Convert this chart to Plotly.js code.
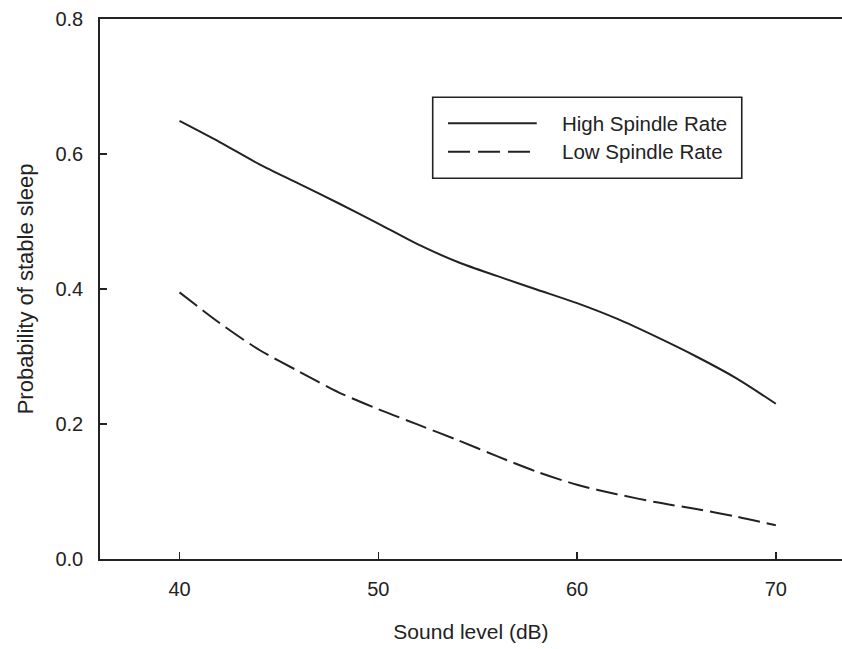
<!DOCTYPE html>
<html>
<head>
<meta charset="utf-8">
<script src="https://cdn.plot.ly/plotly-3.0.1.min.js"></script>
<style>html,body{margin:0;padding:0;background:#fff;}#chart{width:842px;height:649px;}</style>
</head>
<body>
<div id="chart"></div>
<script>
// ---- data ----
const soundLevel = [40, 42, 44, 46, 48, 50, 52, 54, 56, 58, 60, 62, 64, 66, 68, 70];
const highSpindle = [0.649, 0.618, 0.585, 0.556, 0.527, 0.497, 0.466, 0.440, 0.419, 0.399, 0.379, 0.356, 0.329, 0.300, 0.268, 0.230];
const lowSpindle  = [0.395, 0.350, 0.310, 0.278, 0.247, 0.222, 0.199, 0.176, 0.152, 0.129, 0.110, 0.096, 0.084, 0.074, 0.063, 0.050];
const seriesNames = ["High Spindle Rate", "Low Spindle Rate"];
const xTicks = [40, 50, 60, 70];
const yTicks = [0.0, 0.2, 0.4, 0.6, 0.8];
const yTickLabels = ["0.0", "0.2", "0.4", "0.6", "0.8"];

const ink = "#222222";
const fontFam = "Liberation Sans, Arial, sans-serif";

const traces = [
  {x: soundLevel, y: highSpindle, name: seriesNames[0], mode: "lines",
   line: {color: ink, width: 2, shape: "spline", smoothing: 0.8}},
  {x: soundLevel, y: lowSpindle, name: seriesNames[1], mode: "lines",
   line: {color: ink, width: 2, dash: "22px,7px", shape: "spline", smoothing: 0.8}}
];

// legend geometry in paper coords
const lx0 = 0.4484, lx1 = 0.8649, ly0 = 0.705, ly1 = 0.855;
const sx0 = 0.469, sx1 = 0.5886, tx = 0.6199;
const rowY = [0.8069, 0.7543];

const layout = {
  width: 842, height: 649,
  margin: {l: 100, r: 0, t: 19, b: 90},
  paper_bgcolor: "#ffffff", plot_bgcolor: "#ffffff",
  showlegend: false,
  font: {family: fontFam, color: ink, size: 20},
  xaxis: {
    range: [36.0, 73.33], tickvals: xTicks, ticktext: xTicks.map(String),
    ticks: "inside", ticklen: 7, tickwidth: 1.4, tickcolor: ink,
    showline: true, linecolor: ink, linewidth: 1.8, mirror: true,
    showgrid: false, zeroline: false, ticklabelstandoff: 11,
    tickfont: {size: 20, color: ink},
    title: {text: "Sound level (dB)", font: {size: 21, color: ink}, standoff: 25}
  },
  yaxis: {
    range: [0, 0.8], tickvals: yTicks, ticktext: yTickLabels,
    ticks: "inside", ticklen: 7, tickwidth: 1.4, tickcolor: ink,
    showline: true, linecolor: ink, linewidth: 1.8, mirror: false,
    showgrid: false, zeroline: false, ticklabelstandoff: 11,
    tickfont: {size: 20, color: ink},
    title: {text: "Probability of stable sleep", font: {size: 22, color: ink}, standoff: 16}
  },
  shapes: [
    {type: "rect", xref: "paper", yref: "paper", x0: lx0, x1: lx1, y0: ly0, y1: ly1,
     line: {color: ink, width: 1.6}, fillcolor: "rgba(0,0,0,0)"},
    {type: "line", xref: "paper", yref: "paper", x0: sx0, x1: sx1, y0: rowY[0], y1: rowY[0],
     line: {color: ink, width: 2}},
    {type: "line", xref: "paper", yref: "paper", x0: sx0, x1: sx1, y0: rowY[1], y1: rowY[1],
     line: {color: ink, width: 2, dash: "22px,8px"}}
  ],
  annotations: seriesNames.map((n, i) => ({
    xref: "paper", yref: "paper", x: tx, y: rowY[i], xanchor: "left", yanchor: "middle",
    text: n, showarrow: false, font: {size: 20.5, color: ink, family: fontFam}
  }))
};

Plotly.newPlot("chart", traces, layout, {displayModeBar: false, staticPlot: true});
</script>
</body>
</html>
